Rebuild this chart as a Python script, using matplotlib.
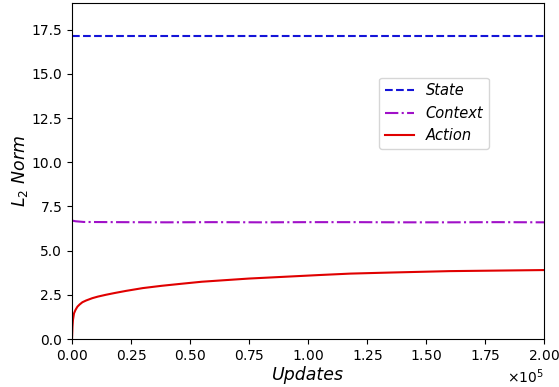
import matplotlib
matplotlib.use("Agg")
import matplotlib.pyplot as plt
import numpy as np

# Data
state_x = [0, 200000]
state_y = [17.13, 17.13]

context_x = [0, 1500, 5000, 20000, 40000, 60000, 80000, 100000, 120000, 140000, 160000, 180000, 200000]
context_y = [6.7, 6.66, 6.62, 6.61, 6.60, 6.61, 6.60, 6.61, 6.61, 6.60, 6.60, 6.61, 6.60]

action_x = [0, 200, 400, 850, 1500, 2300, 3200, 4400, 6000, 8600, 11000, 14300, 18000,
            22800, 30000, 38000, 46000, 55000, 65000, 75000, 90000, 105000, 118000,
            135000, 160000, 180000, 200000]
action_y = [0, 0.7, 1.07, 1.45, 1.65, 1.83, 1.95, 2.08, 2.18, 2.31, 2.4, 2.5, 2.6,
            2.72, 2.88, 3.01, 3.12, 3.24, 3.33, 3.42, 3.52, 3.62, 3.70,
            3.76, 3.84, 3.87, 3.9]

fig = plt.figure(figsize=(5.59, 3.87), dpi=100)
ax = fig.add_axes([0.1288, 0.124, 0.8444, 0.868])

ax.plot(state_x, state_y, color='#1414d8', linestyle='--', linewidth=1.5, label='State')
ax.plot(context_x, context_y, color='#a010c8', linestyle='-.', linewidth=1.5, label='Context')
ax.plot(action_x, action_y, color='#e00000', linestyle='-', linewidth=1.5, label='Action')

ax.set_xlim(0, 200000)
ax.set_ylim(0, 19)
ax.set_yticks([0, 2.5, 5, 7.5, 10, 12.5, 15, 17.5])
ax.ticklabel_format(style='sci', axis='x', scilimits=(0, 0), useMathText=True)
ax.tick_params(labelsize=10)
ax.xaxis.get_offset_text().set_fontsize(10)

ax.set_xlabel('Updates', fontsize=12.5, style='italic', labelpad=2)
ax.set_ylabel(r'$L_2$ Norm', fontsize=12.5, style='italic', labelpad=1)

leg = ax.legend(loc='upper left', bbox_to_anchor=(0.635, 0.80),
                prop={'style': 'italic', 'size': 10.5})

fig.savefig('out.png', dpi=100)
